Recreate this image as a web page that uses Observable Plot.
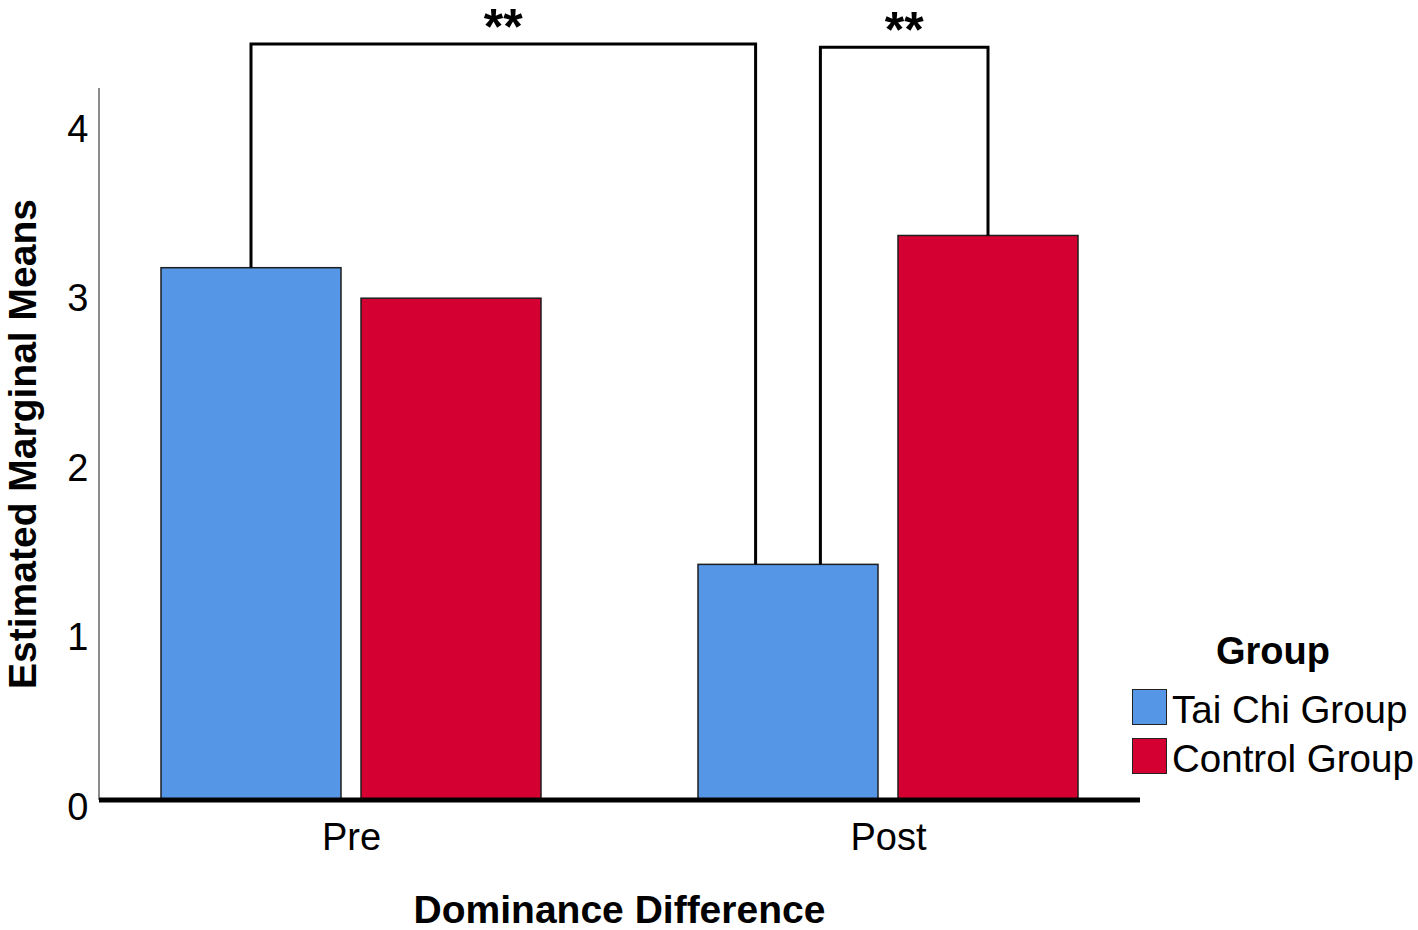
<!DOCTYPE html>
<html>
<head>
<meta charset="utf-8">
<script src="https://cdn.jsdelivr.net/npm/d3@7"></script>
<script src="https://cdn.jsdelivr.net/npm/@observablehq/plot@0.6"></script>
<style>
  body { margin: 0; background: #fff; font-family: "Liberation Sans", Arial, sans-serif; }
  #wrap { position: relative; width: 1418px; height: 930px; overflow: hidden; }
  #legend { position: absolute; left: 1132px; top: 629px; width: 286px; color: #000; }
  #legend .title { font-weight: bold; font-size: 38px; line-height: 44px; text-align: center; height: 44px; margin-bottom: 15px; margin-left: -4px; }
  #legend .row { display: flex; align-items: center; height: 37px; margin-bottom: 12.5px; }
  #legend .sw { width: 33px; height: 34px; border: 1.5px solid #222; flex: none; }
  #legend .lab { font-size: 38.5px; line-height: 38px; margin-left: 5px; white-space: nowrap; position: relative; top: 3px; }
</style>
</head>
<body>
<div id="wrap"></div>
<script>
// ---- data ----
const times = ["Pre", "Post"];
const groups = ["Tai Chi Group", "Control Group"];
const taiChiMeans = [3.14, 1.39];   // Pre, Post
const controlMeans = [2.96, 3.33];  // Pre, Post
const groupColors = ["#5596e6", "#d50032"];
const yTicks = [0, 1, 2, 3, 4];
const yMax = 4.2;
const xTitle = "Dominance Difference";
const yTitle = "Estimated Marginal Means";
const legendTitle = "Group";

// significance comparisons (bar → bar)
const compFromTime = ["Pre", "Post"];
const compFromGroup = ["Tai Chi Group", "Tai Chi Group"];
const compToTime = ["Post", "Post"];
const compToGroup = ["Tai Chi Group", "Control Group"];
const compLevel = [4.46, 4.44];
const compLabel = ["**", "**"];

// ---- table ----
const meansByGroup = { "Tai Chi Group": taiChiMeans, "Control Group": controlMeans };
const rows = [];
times.forEach((t, i) => groups.forEach(g => rows.push({ time: t, group: g, value: meansByGroup[g][i] })));
const valueOf = (t, g) => meansByGroup[g][times.indexOf(t)];

const FONT = "'Liberation Sans', Arial, sans-serif";

const plot = Plot.plot({
  width: 1418,
  height: 930,
  marginLeft: 99,
  marginRight: 278,
  marginTop: 88,
  marginBottom: 130,
  style: { fontFamily: FONT, fontSize: "37px", color: "#000", background: "transparent", overflow: "visible" },
  fx: { domain: times, paddingInner: 0.0615, paddingOuter: 0, label: null },
  x: { domain: groups, paddingInner: 0.1, paddingOuter: 0.31, axis: null },
  y: { domain: [0, yMax], label: null },
  color: { domain: groups, range: groupColors },
  marks: [
    Plot.axisFx({ anchor: "bottom", tickSize: 0, tickPadding: 23, fontSize: 38, label: null }),
    Plot.axisY({ ticks: yTicks, tickFormat: d => String(d), tickSize: 0, tickPadding: 11, fontSize: 38, dy: 7, label: null }),
    Plot.barY(rows, {
      fx: "time", x: "group", y: "value", fill: "group",
      stroke: "#1e1e1e", strokeWidth: 1.5, insetLeft: 0, insetRight: 0
    })
  ]
});

document.getElementById("wrap").appendChild(plot);

// ---- overlays drawn through Plot's scales ----
const fxS = plot.scale("fx");
const xS = plot.scale("x");
const yS = plot.scale("y");
const svg = d3.select(plot);
const barCenter = (t, g) => fxS.apply(t) - xS.range[0] + xS.apply(g) + xS.bandwidth / 2;

const over = svg.append("g").attr("font-family", FONT);

// y axis line (gray)
over.append("line")
  .attr("x1", fxS.range[0]).attr("x2", fxS.range[0])
  .attr("y1", yS.apply(yMax)).attr("y2", yS.apply(0))
  .attr("stroke", "#8c8c8c").attr("stroke-width", 2);

// zero baseline (thick black)
over.append("line")
  .attr("x1", fxS.range[0]).attr("x2", fxS.range[1])
  .attr("y1", yS.apply(0)).attr("y2", yS.apply(0))
  .attr("stroke", "#000").attr("stroke-width", 5);

// significance brackets; when two brackets meet on one bar, split their legs
const key = (t, g) => t + "|" + g;
const legUse = {};
compLevel.forEach((_, i) => {
  legUse[key(compFromTime[i], compFromGroup[i])] = (legUse[key(compFromTime[i], compFromGroup[i])] || 0) + 1;
  legUse[key(compToTime[i], compToGroup[i])] = (legUse[key(compToTime[i], compToGroup[i])] || 0) + 1;
});
const split = xS.bandwidth * 0.18;
compLevel.forEach((lvl, i) => {
  const kf = key(compFromTime[i], compFromGroup[i]);
  const kt = key(compToTime[i], compToGroup[i]);
  const x1 = barCenter(compFromTime[i], compFromGroup[i]) + (legUse[kf] > 1 ? split : 0);
  const x2 = barCenter(compToTime[i], compToGroup[i]) - (legUse[kt] > 1 ? split : 0);
  const y1 = yS.apply(valueOf(compFromTime[i], compFromGroup[i]));
  const y2 = yS.apply(valueOf(compToTime[i], compToGroup[i]));
  const yl = yS.apply(lvl);
  over.append("path")
    .attr("d", `M${x1},${y1}V${yl}H${x2}V${y2}`)
    .attr("fill", "none").attr("stroke", "#000").attr("stroke-width", 3);
  over.append("text")
    .attr("x", (x1 + x2) / 2).attr("y", yl)
    .attr("text-anchor", "middle")
    .attr("font-size", 50).attr("font-weight", "bold")
    .attr("fill", "#000")
    .text(compLabel[i]);
});

// axis titles
over.append("text")
  .attr("transform", `translate(${fxS.range[0] - 63},${(yS.apply(0) + yS.apply(yMax)) / 2}) rotate(-90)`)
  .attr("text-anchor", "middle")
  .attr("font-size", 39).attr("font-weight", "bold").attr("fill", "#000")
  .text(yTitle);

over.append("text")
  .attr("x", (fxS.range[0] + fxS.range[1]) / 2)
  .attr("y", yS.apply(0) + 123)
  .attr("text-anchor", "middle")
  .attr("font-size", 39).attr("font-weight", "bold").attr("fill", "#000")
  .text(xTitle);

// ---- legend (from the plot's color scale) ----
const colorS = plot.scale("color");
const legend = d3.select("#wrap").append("div").attr("id", "legend");
legend.append("div").attr("class", "title").text(legendTitle);
colorS.domain.forEach((g, i) => {
  const r = legend.append("div").attr("class", "row");
  r.append("div").attr("class", "sw").style("background", colorS.range[i]);
  r.append("div").attr("class", "lab").text(g);
});
</script>
</body>
</html>
